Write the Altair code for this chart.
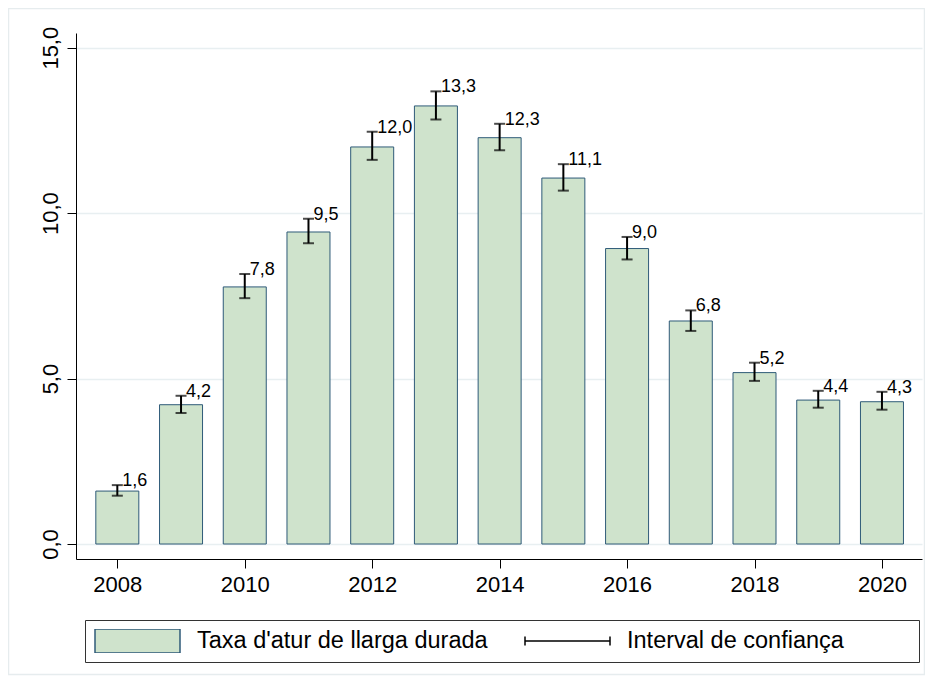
import altair as alt
import pandas as pd

years = list(range(2008, 2021))
rate = [1.60, 4.21, 7.77, 9.43, 12.00, 13.24, 12.28, 11.06, 8.93, 6.74, 5.18, 4.35, 4.30]
ci_low = [1.46, 3.96, 7.43, 9.09, 11.61, 12.83, 11.90, 10.68, 8.60, 6.44, 4.93, 4.12, 4.06]
ci_high = [1.78, 4.48, 8.16, 9.83, 12.46, 13.68, 12.70, 11.48, 9.28, 7.06, 5.48, 4.63, 4.60]
labels = ["1,6", "4,2", "7,8", "9,5", "12,0", "13,3", "12,3", "11,1", "9,0", "6,8", "5,2", "4,4", "4,3"]
x_ticks = [2008, 2010, 2012, 2014, 2016, 2018, 2020]
y_ticks = [0, 5, 10, 15]
series = ["Taxa d'atur de llarga durada", "Interval de confiança"]

df = pd.DataFrame({"year": years, "rate": rate, "lo": ci_low, "hi": ci_high, "label": labels})
leg_df = pd.DataFrame({"series": series})

FONT = "Liberation Sans"
FILL = "#cfe3cc"
EDGE = "#2e5a78"

xscale = alt.Scale(domain=[2007.43, 2020.55], nice=False, zero=False)
yscale = alt.Scale(domain=[-0.453, 15.444], nice=False, zero=False)

x_axis = alt.Axis(values=x_ticks, format="d", title=None, grid=False, tickSize=9,
                  labelFontSize=22, labelFont=FONT, labelColor="black", labelPadding=6,
                  domainColor="black", tickColor="black", labelFlush=False)
y_axis = alt.Axis(values=y_ticks, title=None, grid=True, gridColor="#e8eff1", gridWidth=1.5,
                  tickSize=9, labelFontSize=22, labelFont=FONT, labelColor="black",
                  labelAngle=270, labelAlign="center", labelBaseline="alphabetic",
                  labelPadding=10, domainColor="black", tickColor="black",
                  labelExpr="replace(format(datum.value, '.1f'), '.', ',')")

base = alt.Chart(df)

bars = base.mark_bar(size=43, fill=FILL, stroke=EDGE, strokeWidth=1).encode(
    x=alt.X("year:Q", scale=xscale, axis=x_axis),
    y=alt.Y("rate:Q", scale=yscale, axis=y_axis),
    y2=alt.datum(0),
)

whisk = base.mark_rule(color="black", strokeWidth=2).encode(
    x="year:Q", y="lo:Q", y2="hi:Q"
)
cap_hi = base.mark_tick(orient="horizontal", size=11, thickness=2, color="black").encode(
    x="year:Q", y="hi:Q"
)
cap_lo = base.mark_tick(orient="horizontal", size=11, thickness=2, color="black").encode(
    x="year:Q", y="lo:Q"
)

text = base.mark_text(align="left", baseline="middle", dx=5, dy=-4, fontSize=18,
                      font=FONT, color="black").encode(
    x="year:Q", y="hi:Q", text="label:N"
)

rect_path = "M-1,-0.282H1V0.282H-1Z"
err_path = "M-1,0H1M-1,-0.106V0.106M1,-0.106V0.106"

legend = alt.Legend(
    title="\u00a0", titleOrient="right", titlePadding=66, titleFontSize=1,
    orient="none", legendX=9, legendY=587, direction="horizontal", columns=2,
    columnPadding=36, labelOffset=16, padding=9, strokeColor="#333333", fillColor="white",
    labelFontSize=23.5, labelFont=FONT, labelColor="black", labelLimit=600,
    symbolSize=7225, symbolOpacity=1, symbolStrokeWidth=1.5, clipHeight=24,
)

leg_layer = alt.Chart(leg_df).mark_point(opacity=0).encode(
    fill=alt.Fill("series:N", scale=alt.Scale(domain=series, range=[FILL, "transparent"]), legend=legend),
    stroke=alt.Stroke("series:N", scale=alt.Scale(domain=series, range=[EDGE, "black"]), legend=legend),
    shape=alt.Shape("series:N", scale=alt.Scale(domain=series, range=[rect_path, err_path]), legend=legend),
).transform_filter("false")

frame = alt.Chart(pd.DataFrame({"k": [0]})).mark_rect(
    fill="transparent", stroke="#e6ecee", strokeWidth=1.5
).encode(
    x=alt.value(-67.5), x2=alt.value(848.5), y=alt.value(-24.5), y2=alt.value(641.5)
)

chart = alt.layer(frame, bars, whisk, cap_hi, cap_lo, text, leg_layer).properties(
    width=846, height=526,
    autosize=alt.AutoSizeParams(type="none"),
    padding={"left": 68, "top": 25, "right": 3, "bottom": 117},
    background="white",
).configure_view(stroke=None)

chart.save("out.html", embed_options={"renderer": "svg", "actions": False})
